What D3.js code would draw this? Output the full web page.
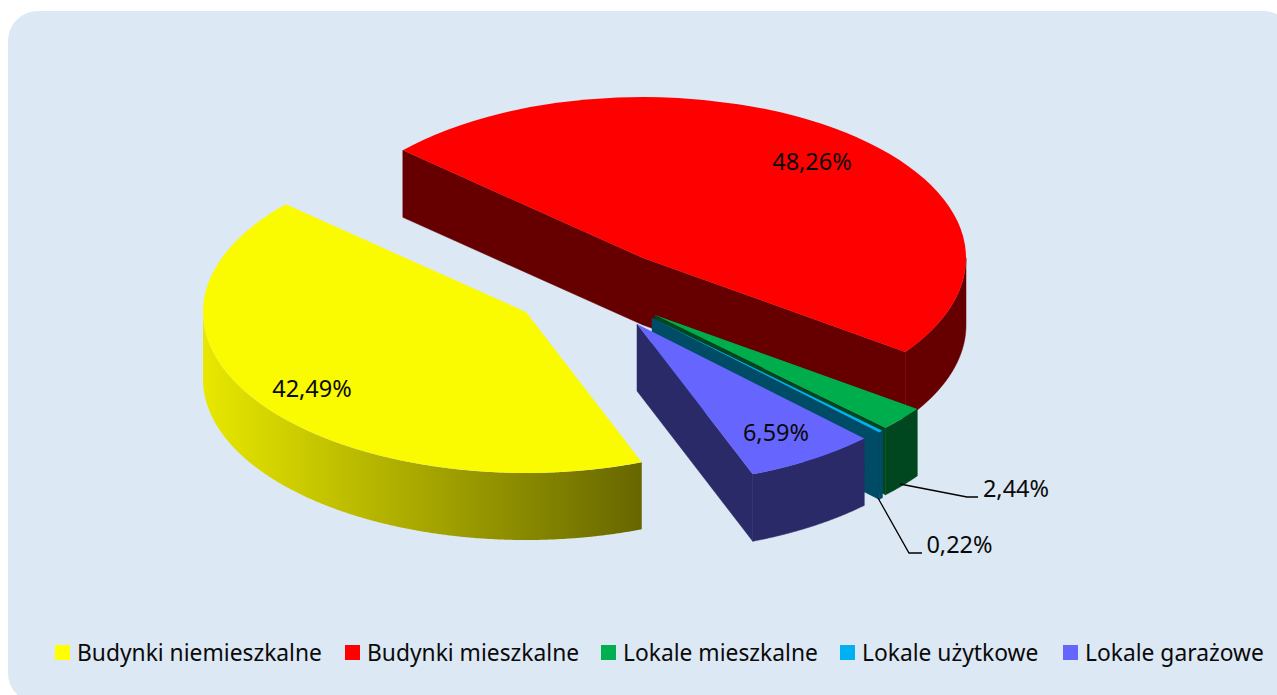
<!DOCTYPE html>
<html>
<head>
<meta charset="utf-8">
<title>Struktura</title>
<style>
  html, body { margin: 0; padding: 0; background: #fff; }
  svg { display: block; }
  text { font-family: "Noto Sans", "Open Sans", sans-serif; fill: #0a0a0a; }
</style>
<script src="https://cdnjs.cloudflare.com/ajax/libs/d3/7.8.5/d3.min.js"></script>
</head>
<body>
<svg></svg>
<script>
const categories = ['Budynki niemieszkalne', 'Budynki mieszkalne', 'Lokale mieszkalne', 'Lokale użytkowe', 'Lokale garażowe'];
const values = [42.49, 48.26, 2.44, 0.22, 6.59];
const valueLabels = ['42,49%', '48,26%', '2,44%', '0,22%', '6,59%'];

const topColors = ['#fafa00', '#ff0000', '#00ad4c', '#00b0f0', '#6666ff'];
const legendColors = ['#ffff00', '#ff0000', '#00b050', '#00b0f0', '#6666ff'];
const wallColors = ['#999900', '#660000', '#00461f', '#004b66', '#2a2a68'];

// slices are pulled apart, so each one has its own apex on the page
const apexX = [526, 643, 655, 652, 637];
const apexY = [312, 258, 315, 318, 324];
const labelX = [312, 812, 1016, 959.5, 776];
const labelY = [388, 161, 488, 544, 432];
const legendSwatchX = [55, 345, 601, 840, 1063];

const width = 1277;
const height = 695;
const rx = 323;
const ry = 161;
const depth = 67;
const rad = Math.PI / 180;

const svg = d3.select('svg').attr('width', width).attr('height', height);

const defs = svg.append('defs');
const grad = defs.append('linearGradient').attr('id', 'yellowWall')
  .attr('gradientUnits', 'userSpaceOnUse')
  .attr('x1', 203).attr('x2', 642).attr('y1', 0).attr('y2', 0);
grad.append('stop').attr('offset', 0).attr('stop-color', '#e8e800');
grad.append('stop').attr('offset', 1).attr('stop-color', '#666600');

// panel runs off the right and bottom of the picture
svg.append('rect')
  .attr('x', 8).attr('y', 11)
  .attr('width', 1285).attr('height', 692)
  .attr('rx', 30)
  .attr('fill', '#dde8f5');

const pie = d3.pie().sort(null)
  .startAngle(159 * rad)
  .endAngle((159 + 360) * rad);
const arcs = pie(values);

const arc = d3.arc().innerRadius(0).outerRadius(rx);
const line = d3.line();

function rim(i, a) {
  return [apexX[i] + rx * Math.sin(a), apexY[i] - ry * Math.cos(a)];
}

function cutWall(i, a) {
  const p = rim(i, a);
  return line([[apexX[i], apexY[i]], p, [p[0], p[1] + depth], [apexX[i], apexY[i] + depth]]) + 'Z';
}

function outerWall(i, d) {
  const angles = d3.range(d.startAngle, d.endAngle, 0.25 * rad).concat(d.endAngle)
    .filter(a => Math.cos(a) <= 0.001);
  if (!angles.length) return null;
  const upper = angles.map(a => rim(i, a));
  const lower = upper.map(p => [p[0], p[1] + depth]).reverse();
  return line(upper.concat(lower)) + 'Z';
}

// back to front: red, green, blue, violet, then the yellow slice
[1, 2, 3, 4, 0].forEach(i => {
  const d = arcs[i];
  const g = svg.append('g').attr('class', 'slice');

  // only the cut faces turned towards the viewer
  const cuts = [];
  if (Math.sin(d.startAngle) < 0) cuts.push(d.startAngle);
  if (Math.sin(d.endAngle) > 0 && i !== 0) cuts.push(d.endAngle);

  g.selectAll('path.cut')
    .data(cuts)
    .enter().append('path')
    .attr('class', 'cut')
    .attr('d', a => cutWall(i, a))
    .attr('fill', wallColors[i])
    .attr('stroke', wallColors[i])
    .attr('stroke-width', 0.5);

  g.append('path')
    .attr('d', outerWall(i, d))
    .attr('fill', i === 0 ? 'url(#yellowWall)' : wallColors[i])
    .attr('stroke', i === 0 ? 'none' : wallColors[i])
    .attr('stroke-width', 0.5);

  g.append('path')
    .attr('d', arc(d))
    .attr('transform', `translate(${apexX[i]},${apexY[i]}) scale(1,${ry / rx})`)
    .attr('fill', topColors[i]);
});

// leader lines for the two small slices
const leaders = [
  [[900, 484], [967, 497], [978, 497]],
  [[878, 498], [909, 553], [922, 553]]
];
svg.selectAll('path.leader')
  .data(leaders)
  .enter().append('path')
  .attr('class', 'leader')
  .attr('d', d => line(d))
  .attr('fill', 'none')
  .attr('stroke', '#000')
  .attr('stroke-width', 1.3);

svg.selectAll('text.value')
  .data(valueLabels)
  .enter().append('text')
  .attr('class', 'value')
  .attr('x', (d, i) => labelX[i])
  .attr('y', (d, i) => labelY[i])
  .attr('text-anchor', 'middle')
  .attr('dominant-baseline', 'central')
  .attr('font-size', 23.5)
  .text(d => d);

const legend = svg.selectAll('g.legend')
  .data(categories)
  .enter().append('g')
  .attr('class', 'legend')
  .attr('transform', (d, i) => `translate(${legendSwatchX[i]},645)`);
legend.append('rect')
  .attr('width', 15).attr('height', 15)
  .attr('fill', (d, i) => legendColors[i]);
legend.append('text')
  .attr('x', 22).attr('y', 7)
  .attr('dominant-baseline', 'central')
  .attr('font-size', 22.8)
  .text(d => d);
</script>
</body>
</html>
